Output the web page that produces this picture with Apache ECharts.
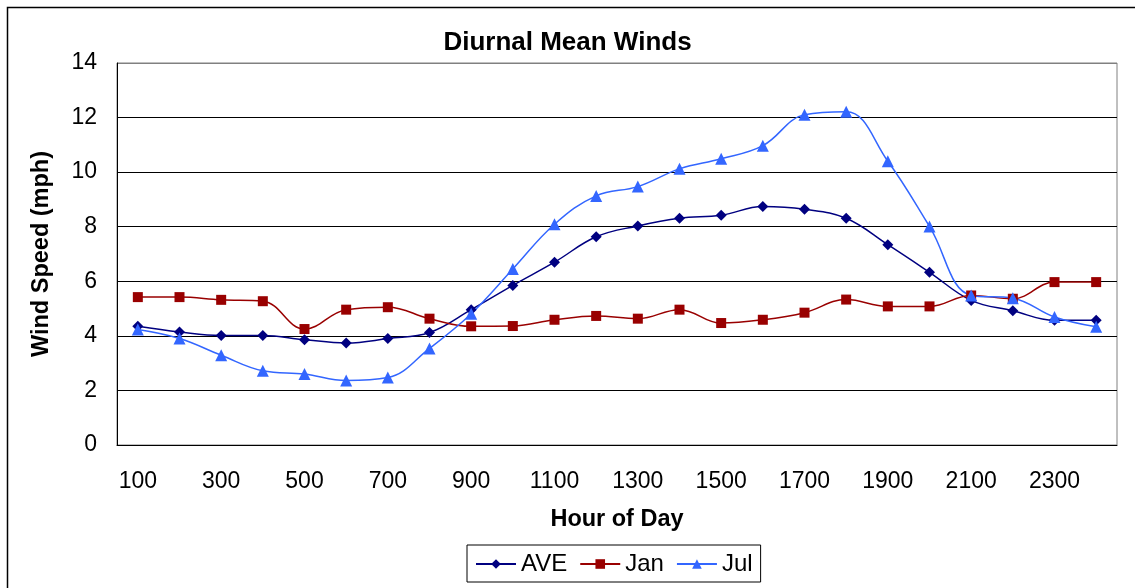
<!DOCTYPE html>
<html>
<head>
<meta charset="utf-8">
<script src="https://cdn.jsdelivr.net/npm/echarts@6/dist/echarts.min.js"></script>
<style>
  html, body { margin: 0; padding: 0; background: #fff; }
  #chart { width: 1135px; height: 588px; }
</style>
</head>
<body>
<div id="chart"></div>
<script>
const hours = ['100', '200', '300', '400', '500', '600', '700', '800', '900', '1000', '1100', '1200',
  '1300', '1400', '1500', '1600', '1700', '1800', '1900', '2000', '2100', '2200', '2300', '2400']
const aveSpeed = [4.35, 4.14, 4.01, 4.01, 3.86, 3.74, 3.90, 4.12, 4.96, 5.85, 6.70, 7.63,
  8.03, 8.31, 8.42, 8.74, 8.64, 8.31, 7.34, 6.33, 5.30, 4.92, 4.57, 4.57]
const janSpeed = [5.42, 5.42, 5.32, 5.27, 4.25, 4.96, 5.05, 4.63, 4.35, 4.36, 4.59, 4.73,
  4.63, 4.96, 4.47, 4.59, 4.85, 5.33, 5.08, 5.08, 5.48, 5.36, 5.97, 5.97]
const julSpeed = [4.23, 3.90, 3.29, 2.72, 2.60, 2.36, 2.47, 3.54, 4.81, 6.45, 8.09, 9.13,
  9.47, 10.12, 10.49, 10.97, 12.10, 12.21, 10.40, 8.01, 5.48, 5.38, 4.69, 4.33]

const font = '"Liberation Sans", Arial, sans-serif'
const chart = echarts.init(document.getElementById('chart'))

const makeSeries = (name, data, color, symbol, size) => ({
  name: name,
  type: 'line',
  data: data,
  smooth: 0.4,
  symbol: symbol,
  symbolSize: size,
  showAllSymbol: true,
  lineStyle: { color: color, width: 1.5 },
  itemStyle: { color: color },
  emphasis: { disabled: true }
})

chart.setOption({
  animation: false,
  backgroundColor: '#fff',
  graphic: [{
    type: 'rect',
    left: 5, top: 5,
    shape: { width: 1200, height: 700 },
    style: { fill: 'none', stroke: '#000', lineWidth: 1.5 },
    silent: true
  }],
  title: {
    text: 'Diurnal Mean Winds',
    left: 'center',
    top: 25,
    textStyle: { fontFamily: font, fontSize: 26, fontWeight: 'bold', color: '#000' }
  },
  legend: {
    data: ['AVE', 'Jan', 'Jul'],
    left: 467,
    top: 545,
    itemWidth: 40,
    itemHeight: 12,
    itemGap: 12,
    padding: [7, 8, 6, 8],
    borderColor: '#000',
    borderWidth: 1,
    textStyle: { fontFamily: font, fontSize: 24, color: '#000' }
  },
  grid: { left: 117, right: 18, top: 63, bottom: 143, show: true, borderColor: '#808080', borderWidth: 1 },
  xAxis: {
    type: 'category',
    data: hours,
    boundaryGap: true,
    name: 'Hour of Day',
    nameLocation: 'middle',
    nameGap: 63,
    nameTextStyle: { fontFamily: font, fontSize: 23.5, fontWeight: 'bold', color: '#000' },
    axisLine: { lineStyle: { color: '#000', width: 1 } },
    axisTick: { inside: true, length: 7, interval: 0, lineStyle: { color: '#000' } },
    axisLabel: { interval: 1, margin: 25, fontFamily: font, fontSize: 23, color: '#000' },
    splitLine: { show: false }
  },
  yAxis: {
    type: 'value',
    min: 0,
    max: 14,
    interval: 2,
    name: 'Wind Speed (mph)',
    nameLocation: 'middle',
    nameGap: 63,
    nameTextStyle: { fontFamily: font, fontSize: 23.5, fontWeight: 'bold', color: '#000' },
    axisLine: { show: true, lineStyle: { color: '#000', width: 1 } },
    axisTick: { show: false },
    axisLabel: { margin: 20, fontFamily: font, fontSize: 23, color: '#000' },
    splitLine: { lineStyle: { color: ['#000', '#000', '#000', '#000', '#000', '#000', '#000', '#808080'], width: 1 } }
  },
  series: [
    makeSeries('AVE', aveSpeed, '#000080', 'diamond', 11),
    makeSeries('Jan', janSpeed, '#990000', 'rect', 10),
    makeSeries('Jul', julSpeed, '#3366FF', 'triangle', 12)
  ]
})

window.addEventListener('resize', () => {
  if (chart) {
    chart.resize()
  }
})
</script>
</body>
</html>
